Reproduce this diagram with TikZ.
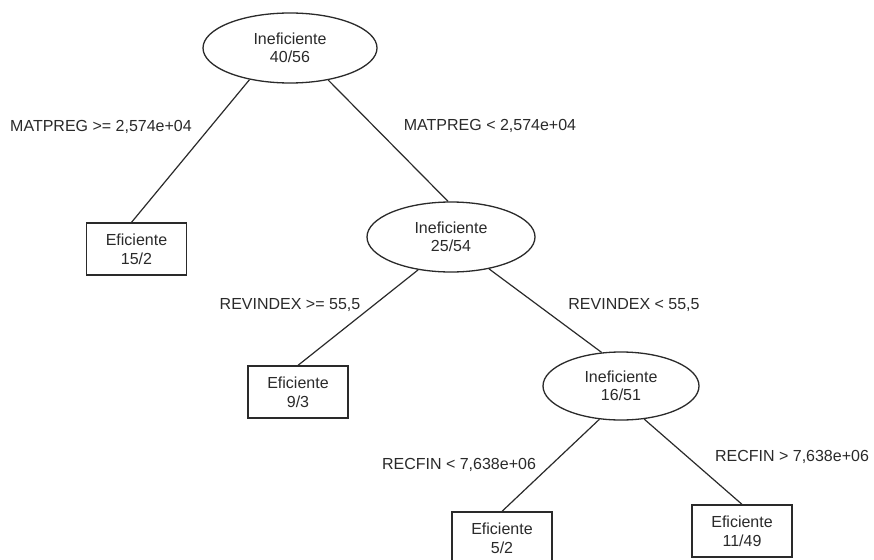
\documentclass[tikz,border=0pt]{standalone}
\usepackage{fontspec}
\setmainfont{Liberation Sans}
\usetikzlibrary{shapes.geometric}
\definecolor{ink}{HTML}{2A2A2A}
\tikzset{
  inner/.style={ellipse, draw=ink, line width=1.3pt, inner sep=0pt, align=center, text=ink,
    font=\fontsize{16}{18.5}\selectfont},
  leaf/.style={rectangle, draw=ink, line width=1.3pt, inner sep=0pt, align=center, text=ink,
    minimum width=100pt, minimum height=52pt, font=\fontsize{16}{19}\selectfont},
  edge/.style={draw=ink, line width=1.2pt},
  lbl/.style={text=ink, inner sep=0pt, font=\fontsize{16}{18}\selectfont}
}
\begin{document}
\begin{tikzpicture}[x=1pt,y=-1pt]
\useasboundingbox (0,0) rectangle (874,559);
\clip (0,0) rectangle (874,559);
\fill[white] (0,0) rectangle (874,559);

\node[inner, minimum width=174pt, minimum height=70pt] (root) at (290,48) {Ineficiente\\40/56};
\node[inner, minimum width=168pt, minimum height=70pt] (e2) at (451,237) {Ineficiente\\25/54};
\node[inner, minimum width=156pt, minimum height=68pt] (e3) at (621,386) {Ineficiente\\16/51};

\node[leaf] (b1) at (136.5,249) {Eficiente\\15/2};
\node[leaf] (b2) at (298,392) {Eficiente\\9/3};
\node[leaf] (b3) at (502,538) {Eficiente\\5/2};
\node[leaf] (b4) at (742,531) {Eficiente\\11/49};

\draw[edge] (root.218) -- ([xshift=-5pt]b1.north);
\draw[edge] (root.320) -- ([xshift=-3pt]e2.north);
\draw[edge] (e2.225) -- (b2.north);
\draw[edge] (e2.320) -- (e3.120);
\draw[edge] (e3.237) -- (b3.north);
\draw[edge] (e3.305) -- (b4.north);

\node[lbl] (l1) at (101,127) {MATPREG >= 2,574e+04};
\node[lbl] (l2) at (490,126) {MATPREG < 2,574e+04};
\node[lbl] (l3) at (290,305) {REVINDEX >= 55,5};
\node[lbl] (l4) at (634,305) {REVINDEX < 55,5};
\node[lbl] (l5) at (459,465) {RECFIN < 7,638e+06};
\node[lbl] (l6) at (792,457) {RECFIN > 7,638e+06};
\end{tikzpicture}
\end{document}
